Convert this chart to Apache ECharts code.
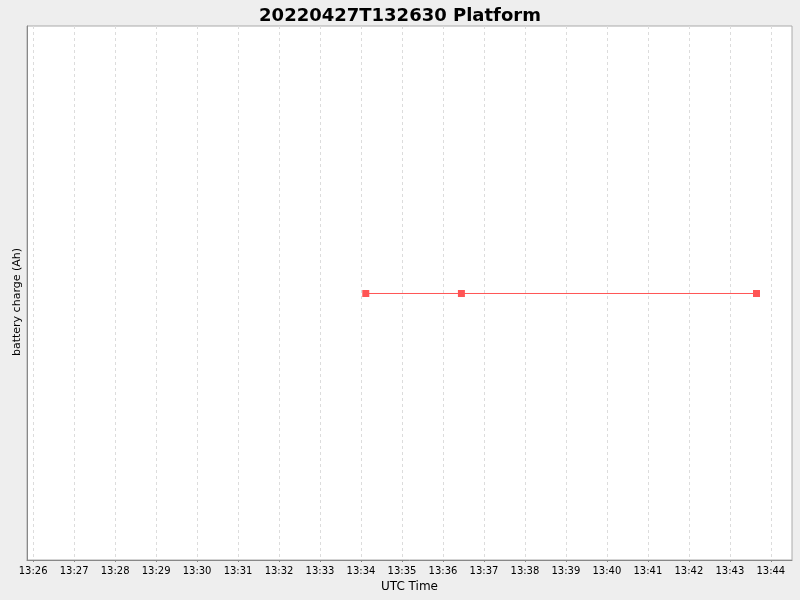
<!DOCTYPE html>
<html>
<head>
<meta charset="utf-8">
<script src="https://cdn.jsdelivr.net/npm/echarts@6/dist/echarts.min.js"></script>
<style>
  html, body { margin: 0; padding: 0; background: #eeeeee; }
  #chart { width: 800px; height: 600px; }
</style>
</head>
<body>
<div id="chart"></div>
<script>
// sample times (UTC) and battery charge readings
var times = [
  Date.UTC(2022, 3, 27, 13, 34, 7),
  Date.UTC(2022, 3, 27, 13, 36, 27),
  Date.UTC(2022, 3, 27, 13, 43, 39)
];
var charge = [0, 0, 0];
// tick minutes 13:26 .. 13:44
var tickMinutes = [26, 27, 28, 29, 30, 31, 32, 33, 34, 35, 36, 37, 38, 39, 40, 41, 42, 43, 44];
var xMin = Date.UTC(2022, 3, 27, 13, 25, 51);
var xMax = Date.UTC(2022, 3, 27, 13, 44, 31);

function pad(n) { return n < 10 ? '0' + n : '' + n; }

function chart(ele) {
  var myChart = echarts.init(ele);
  var points = [];
  for (var i = 0; i < times.length; i++) {
    points.push([times[i], charge[i]]);
  }
  var ticks = tickMinutes.map(function (m) {
    return Date.UTC(2022, 3, 27, 13, m, 0);
  });
  var option = {
    backgroundColor: '#eeeeee',
    animation: false,
    title: {
      text: '20220427T132630 Platform',
      left: 'center',
      top: 2,
      textStyle: {
        fontFamily: 'DejaVu Sans',
        fontSize: 18,
        fontWeight: 'bold',
        color: '#000'
      }
    },
    grid: {
      left: 27,
      right: 8,
      top: 26,
      bottom: 40,
      show: true,
      backgroundColor: '#ffffff',
      borderColor: '#aaaaaa',
      borderWidth: 1
    },
    xAxis: {
      type: 'value',
      min: xMin,
      max: xMax,
      name: 'UTC Time',
      nameLocation: 'middle',
      nameGap: 20,
      nameTextStyle: { fontFamily: 'DejaVu Sans', fontSize: 12, color: '#000' },
      axisLine: { onZero: false, lineStyle: { color: '#888888' } },
      axisTick: { show: true, length: 2, customValues: ticks, lineStyle: { color: '#888888' } },
      axisLabel: {
        fontFamily: 'DejaVu Sans',
        fontSize: 10,
        color: '#000',
        margin: 6,
        customValues: ticks,
        formatter: function (v) {
          var d = new Date(v);
          return pad(d.getUTCHours()) + ':' + pad(d.getUTCMinutes());
        }
      },
      splitLine: {
        show: true,
        lineStyle: { color: '#dcdcdc', type: [3, 3], width: 1 }
      }
    },
    yAxis: {
      type: 'value',
      // half-pixel offset so the flat line sits on one pixel row
      min: -0.99813,
      max: 1.00187,
      name: 'battery charge (Ah)',
      nameLocation: 'middle',
      nameGap: 4,
      nameTextStyle: {
        fontFamily: 'DejaVu Sans',
        fontSize: 11,
        color: '#000',
        padding: [0, 18, 0, 0]
      },
      axisLine: { show: true, onZero: false, lineStyle: { color: '#888888' } },
      axisTick: { show: false },
      axisLabel: { show: false },
      splitLine: { show: false }
    },
    series: [
      {
        type: 'line',
        data: points,
        symbol: 'rect',
        symbolSize: 7,
        itemStyle: { color: '#ff5555' },
        lineStyle: { color: '#ff5555', width: 1 }
      }
    ]
  };
  myChart.setOption(option);
}

chart(document.getElementById('chart'));
</script>
</body>
</html>
